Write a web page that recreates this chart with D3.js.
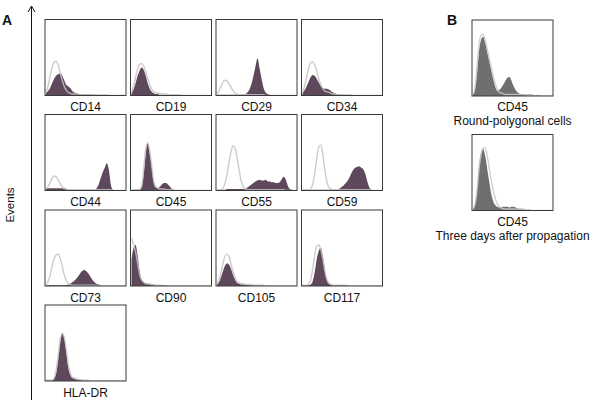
<!DOCTYPE html>
<html>
<head>
<meta charset="utf-8">
<script src="https://cdn.jsdelivr.net/npm/d3@7"></script>
<style>
  body { margin: 0; background: #fff; }
  text { font-family: "Liberation Sans", Arial, sans-serif; fill: #111; }
</style>
</head>
<body>
<script>
// histogram heights in % of the box, 40 bins along the fluorescence axis
const cd14Fill = [3,6,10,16,22,26,28,29,26,20,14,12,10,6,4,3,2,2,2,2,2,2,2,1,1,1,1,1,1,1,1,0,0,0,0,0,0,0,0,0];
const cd14Ctrl = [4,12,25,37,44,45,40,30,20,12,7,4,3,2,2,2,2,1,1,1,1,1,1,1,1,0,0,0,0,0,0,0,0,0,0,0,0,0,0,0];
const cd19Fill = [3,8,16,26,33,37,34,26,16,9,5,3,2,2,1,1,1,1,1,1,0,0,0,0,0,0,0,0,0,0,0,0,0,0,0,0,0,0,0,0];
const cd19Ctrl = [4,12,24,35,41,42,39,31,22,14,8,5,4,3,3,2,2,2,1,1,1,1,1,1,1,0,0,0,0,0,0,0,0,0,0,0,0,0,0,0];
const cd29Fill = [1,1,1,1,1,1,1,1,1,1,1,1,1,1,2,4,8,15,26,38,49,36,22,10,4,2,1,0,0,0,0,0,0,0,0,0,0,0,0,0];
const cd29Ctrl = [2,6,12,18,20,19,15,10,6,3,2,1,1,1,1,1,1,1,1,1,1,1,1,1,0,0,0,0,0,0,0,0,0,0,0,0,0,0,0,0];
const cd34Fill = [3,7,12,18,24,27,26,22,17,13,10,9,9,8,6,4,3,2,2,1,1,1,1,1,1,0,0,0,0,0,0,0,0,0,0,0,0,0,0,0];
const cd34Ctrl = [4,12,24,36,43,44,40,32,22,14,9,6,5,4,3,2,2,1,1,1,1,1,0,0,0,0,0,0,0,0,0,0,0,0,0,0,0,0,0,0];
const cd44Fill = [3,3,3,3,3,3,3,3,3,2,2,1,1,1,1,1,1,1,1,1,1,1,1,1,1,3,8,16,24,30,36,28,8,1,0,0,0,0,0,0];
const cd44Ctrl = [2,5,10,16,19,18,14,9,5,3,2,1,1,1,1,1,1,1,1,1,1,1,1,1,1,1,1,1,1,1,1,1,1,0,0,0,0,0,0,0];
const cd45Fill = [0,1,1,1,1,4,20,48,62,50,30,10,4,3,5,8,10,10,8,5,2,1,0,0,0,0,0,0,0,0,0,0,0,0,0,0,0,0,0,0];
const cd45Ctrl = [1,1,1,1,2,6,28,55,63,52,32,12,5,3,2,2,2,1,1,1,1,0,0,0,0,0,0,0,0,0,0,0,0,0,0,0,0,0,0,0];
const cd55Fill = [1,1,1,1,1,2,2,2,2,2,2,2,2,2,2,4,6,8,10,12,13,14,13,13,14,12,12,11,11,10,10,11,15,18,14,6,2,1,0,0];
const cd55Ctrl = [1,1,1,3,10,22,38,52,59,55,42,26,12,5,2,1,1,1,1,1,1,1,1,1,1,1,1,1,1,1,1,1,1,1,0,0,0,0,0,0];
const cd59Fill = [1,1,1,1,1,1,1,1,1,1,1,1,1,1,1,1,1,1,2,4,6,9,12,16,22,27,30,31,32,30,28,22,12,4,1,0,0,0,0,0];
const cd59Ctrl = [1,1,1,1,2,8,22,42,57,60,48,28,12,4,2,1,1,1,1,1,1,1,1,1,1,1,1,1,1,1,1,1,1,1,0,0,0,0,0,0];
const cd73Fill = [1,1,1,1,1,1,1,1,1,1,1,2,3,5,7,10,13,17,20,21,19,16,12,8,5,3,2,1,0,0,0,0,0,0,0,0,0,0,0,0];
const cd73Ctrl = [2,6,14,26,36,41,42,36,26,15,7,3,2,1,1,1,1,1,1,1,1,1,1,1,1,1,0,0,0,0,0,0,0,0,0,0,0,0,0,0];
const cd90Fill = [35,50,54,40,20,8,5,4,3,3,2,2,1,1,1,1,1,1,0,0,0,0,0,0,0,0,0,0,0,0,0,0,0,0,0,0,0,0,0,0];
const cd90Ctrl = [63,55,45,30,15,8,5,3,3,2,2,1,1,1,1,1,0,0,0,0,0,0,0,0,0,0,0,0,0,0,0,0,0,0,0,0,0,0,0,0];
const cd105Fill = [2,5,12,20,27,30,28,22,14,8,4,3,2,2,2,1,1,1,1,1,1,1,1,0,0,0,0,0,0,0,0,0,0,0,0,0,0,0,0,0];
const cd105Ctrl = [3,8,18,30,40,42,38,28,18,10,6,4,3,3,2,2,2,2,1,1,1,1,1,1,0,0,0,0,0,0,0,0,0,0,0,0,0,0,0,0];
const cd117Fill = [1,1,1,1,2,6,18,35,46,50,40,22,8,3,2,1,1,1,1,1,1,1,0,0,0,0,0,0,0,0,0,0,0,0,0,0,0,0,0,0];
const cd117Ctrl = [1,1,1,3,8,22,40,52,54,48,36,20,9,4,2,1,1,1,1,1,1,1,1,0,0,0,0,0,0,0,0,0,0,0,0,0,0,0,0,0];
const hlaFill = [1,1,1,1,3,10,28,50,62,56,38,18,8,4,3,2,2,1,1,1,1,0,0,0,0,0,0,0,0,0,0,0,0,0,0,0,0,0,0,0];
const hlaCtrl = [1,1,1,1,4,14,34,55,63,58,42,22,10,5,4,3,2,2,1,1,1,1,0,0,0,0,0,0,0,0,0,0,0,0,0,0,0,0,0,0];
const roundFill = [2,8,30,60,74,78,70,58,46,34,22,12,7,8,11,15,20,24,25,20,13,8,5,3,2,2,2,2,2,2,1,1,1,1,0,0,0,0,0,0];
const roundCtrl = [3,12,40,68,80,81,74,62,50,38,26,16,9,5,4,3,2,2,2,2,2,2,2,2,2,2,1,1,1,1,0,0,0,0,0,0,0,0,0,0];
const daysFill = [2,8,30,60,76,81,72,55,38,22,12,7,5,4,4,5,5,5,4,5,5,4,3,2,2,1,1,1,1,0,0,0,0,0,0,0,0,0,0,0];
const daysCtrl = [2,8,26,55,74,82,83,72,56,40,26,16,9,5,3,2,2,2,2,2,2,2,2,2,2,2,1,1,1,0,0,0,0,0,0,0,0,0,0,0];

const markersA = ["CD14","CD19","CD29","CD34","CD44","CD45","CD55","CD59","CD73","CD90","CD105","CD117","HLA-DR"];
const fillsA = [cd14Fill,cd19Fill,cd29Fill,cd34Fill,cd44Fill,cd45Fill,cd55Fill,cd59Fill,cd73Fill,cd90Fill,cd105Fill,cd117Fill,hlaFill];
const ctrlsA = [cd14Ctrl,cd19Ctrl,cd29Ctrl,cd34Ctrl,cd44Ctrl,cd45Ctrl,cd55Ctrl,cd59Ctrl,cd73Ctrl,cd90Ctrl,cd105Ctrl,cd117Ctrl,hlaCtrl];
const labelsB = [["CD45","Round-polygonal cells"],["CD45","Three days after propagation"]];
const fillsB = [roundFill, daysFill];
const ctrlsB = [roundCtrl, daysCtrl];

const width = 600, height = 402;
const boxW = 81, boxH = 76;
const nBins = 40;

const svg = d3.select("body").append("svg")
              .attr("width", width)
              .attr("height", height);

const x = d3.scaleLinear().domain([0, nBins]).range([0, boxW]);
const y = d3.scaleLinear().domain([0, 100]).range([boxH, 0]);

const area = d3.area()
               .x((d, i) => x(i + 0.5))
               .y0(y(0))
               .y1(d => y(d))
               .curve(d3.curveMonotoneX);
const line = d3.line()
               .x((d, i) => x(i + 0.5))
               .y(d => y(d))
               .curve(d3.curveMonotoneX);

function drawPanel(g, fill, ctrl, fillColor, ctrlColor, id) {
  g.append("clipPath").attr("id", "clip" + id)
   .append("rect").attr("width", boxW).attr("height", boxH);
  g.append("rect")
   .attr("width", boxW).attr("height", boxH)
   .attr("fill", "#fffffd");
  const inner = g.append("g").attr("clip-path", `url(#clip${id})`);
  inner.append("path")
       .datum(fill)
       .attr("d", area)
       .attr("fill", fillColor);
  inner.append("path")
       .datum(ctrl)
       .attr("d", line)
       .attr("fill", "none")
       .attr("stroke", ctrlColor)
       .attr("stroke-width", 1.4)
       .attr("stroke-opacity", 0.85);
  g.append("rect")
   .attr("width", boxW).attr("height", boxH)
   .attr("fill", "none")
   .attr("stroke", "#3a3a3a")
   .attr("stroke-width", 1);
}

// panel A grid
const colX = [45, 130.5, 216, 301.5];
const rowY = [19.5, 114.5, 210, 305];

markersA.forEach((m, i) => {
  const g = svg.append("g")
               .attr("transform", `translate(${colX[i % 4]},${rowY[Math.floor(i / 4)]})`);
  drawPanel(g, fillsA[i], ctrlsA[i], "#5e485b", "#c6c2c4", "a" + i);
  g.append("text")
   .attr("x", boxW / 2).attr("y", boxH + 15.5)
   .attr("text-anchor", "middle")
   .attr("font-size", 12)
   .text(m);
});

// events axis
svg.append("line")
   .attr("x1", 31.5).attr("x2", 31.5)
   .attr("y1", 7).attr("y2", 400)
   .attr("stroke", "#111").attr("stroke-width", 1);
svg.append("path")
   .attr("d", "M28,12 L31.5,6 L35,12")
   .attr("fill", "none").attr("stroke", "#111").attr("stroke-width", 1);
svg.append("text")
   .attr("transform", "translate(14,205) rotate(-90)")
   .attr("text-anchor", "middle")
   .attr("font-size", 11.5)
   .text("Events");

svg.append("text").attr("x", 2).attr("y", 25)
   .attr("font-size", 14).attr("font-weight", "bold").text("A");
svg.append("text").attr("x", 447).attr("y", 25)
   .attr("font-size", 14).attr("font-weight", "bold").text("B");

// panel B
const bY = [20, 134.5];
labelsB.forEach((lab, i) => {
  const g = svg.append("g").attr("transform", `translate(472,${bY[i]})`);
  drawPanel(g, fillsB[i], ctrlsB[i], "#6f6f6f", "#c8c8c8", "b" + i);
  lab.forEach((t, j) => {
    g.append("text")
     .attr("x", boxW / 2).attr("y", boxH + 15 + j * 14)
     .attr("text-anchor", "middle")
     .attr("font-size", 12)
     .text(t);
  });
});
</script>
</body>
</html>
